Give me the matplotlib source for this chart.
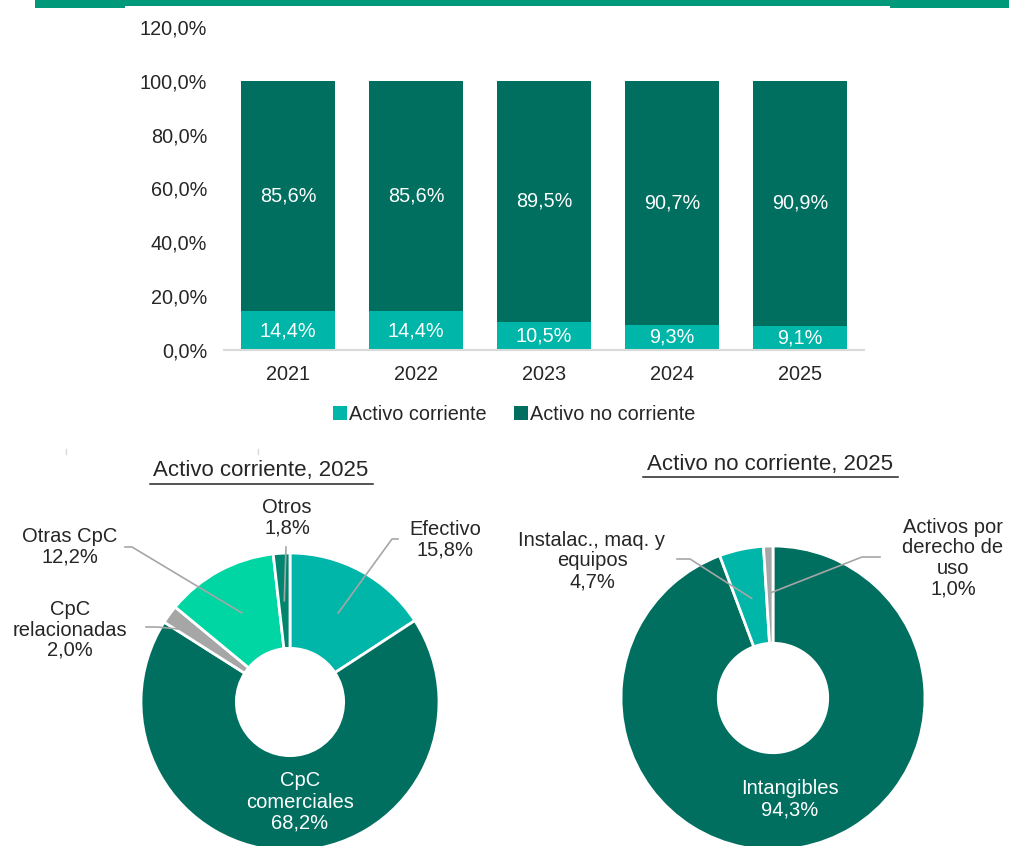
import numpy as np
import matplotlib
matplotlib.use("Agg")
import matplotlib.pyplot as plt
from matplotlib.patches import Rectangle

plt.rcParams['font.family'] = ['Liberation Sans', 'DejaVu Sans']

# ---- data ----
years = ['2021', '2022', '2023', '2024', '2025']
activo_corriente = [14.4, 14.4, 10.5, 9.3, 9.1]
activo_no_corriente = [85.6, 85.6, 89.5, 90.7, 90.9]
y_ticks = [0, 20, 40, 60, 80, 100, 120]

ac_labels = ['Efectivo', 'CpC\ncomerciales', 'CpC\nrelacionadas', 'Otras CpC', 'Otros']
ac_values = [15.8, 68.2, 2.0, 12.2, 1.8]

anc_labels = ['Intangibles', 'Instalac., maq. y\nequipos', 'Activos por\nderecho de\nuso']
anc_values = [94.3, 4.7, 1.0]

# ---- style ----
DARK = '#006F60'
TEAL = '#00B6A8'
MINT = '#00D6A4'
MID = '#00866F'
GREY = '#A6A6A6'
BAND = '#00997A'
TXT = '#262626'

W, H = 1009, 846
fig = plt.figure(figsize=(W / 100, H / 100), dpi=100)


def fmt(v):
    return f"{v:.1f}".replace('.', ',') + '%'


def px_axes(x0, y0, x1, y1):
    """Axes placed by pixel box (top-left origin)."""
    return fig.add_axes([x0 / W, 1 - y1 / H, (x1 - x0) / W, (y1 - y0) / H])


# top band
band = fig.add_axes([0, 0, 1, 1], zorder=-1)
band.set_xlim(0, W)
band.set_ylim(H, 0)
band.axis('off')
band.add_patch(Rectangle((35, 0), W - 35, 6.5, color=BAND, lw=0))
band.add_patch(Rectangle((35, 0), 90, 8, color=BAND, lw=0))
band.add_patch(Rectangle((890, 0), W - 890, 8, color=BAND, lw=0))
band.plot([66, 66], [449, 454], color='#D9D9D9', lw=1)
band.plot([258, 258], [449, 454], color='#D9D9D9', lw=1)

# ---- stacked bars ----
FS = 14.3
ax = px_axes(224, 27, 864, 350)
x = np.arange(len(years))
bw = 0.74
ax.bar(x, activo_corriente, bw, color=TEAL, label='Activo corriente', zorder=2)
ax.bar(x, activo_no_corriente, bw, bottom=activo_corriente, color=DARK,
       label='Activo no corriente', zorder=2)
for xi, a, b in zip(x, activo_corriente, activo_no_corriente):
    ax.text(xi, a / 2, fmt(a), ha='center', va='center', color='white', fontsize=FS)
    ax.text(xi, a + b / 2, fmt(b), ha='center', va='center', color='white', fontsize=FS)

ax.set_xlim(-0.5, len(years) - 0.5)
ax.set_ylim(0, 120)
ax.set_yticks(y_ticks)
ax.set_yticklabels([fmt(t) for t in y_ticks], fontsize=FS, color=TXT)
ax.set_xticks(x)
ax.set_xticklabels(years, fontsize=FS, color=TXT)
ax.tick_params(axis='both', length=0)
ax.tick_params(axis='y', pad=12)
ax.tick_params(axis='x', pad=11)
for s in ['top', 'right', 'left']:
    ax.spines[s].set_visible(False)
ax.spines['bottom'].set_color('#D9D9D9')
ax.spines['bottom'].set_linewidth(1.5)
ax.set_facecolor('none')

leg = ax.legend(loc='center left', bbox_to_anchor=((315 - 224) / 640, -0.2), ncol=2,
                frameon=False, fontsize=FS, handlelength=0.7, handleheight=0.7,
                handletextpad=0.1, columnspacing=1.4)
for t in leg.get_texts():
    t.set_color(TXT)

# ---- donuts ----
pa = fig.add_axes([0, 0, 1, 1])
pa.set_xlim(0, W)
pa.set_ylim(0, H)
pa.set_aspect('equal')
pa.axis('off')

HOLE = 0.36
ring_w = 1 - HOLE


def donut(values, colors, cx, cy, r):
    wedges, _ = pa.pie(values, colors=colors, startangle=90, counterclock=False,
                       center=(cx, H - cy), radius=r,
                       wedgeprops=dict(width=r * ring_w, edgecolor='white', linewidth=2))
    pa.set_xlim(0, W)
    pa.set_ylim(0, H)
    return wedges


def anchor(wedge, cx, cy, r, frac):
    ang = np.deg2rad((wedge.theta1 + wedge.theta2) / 2)
    return cx + frac * r * np.cos(ang), cy - frac * r * np.sin(ang)


def leader(points):
    xs = [p[0] for p in points]
    ys = [H - p[1] for p in points]
    pa.plot(xs, ys, color=GREY, lw=1.2, zorder=5)


# left donut: current assets
lcx, lcy, lr = 290, 702, 149
lw_ = donut(ac_values, [TEAL, DARK, GREY, MINT, MID], lcx, lcy, lr)
fig.text(261 / W, 1 - 470 / H, 'Activo corriente, 2025', ha='center', va='center',
         fontsize=16, color=TXT)
pa.plot([150, 373], [H - 484, H - 484], color=TXT, lw=1.1)

lbl_kw = dict(ha='center', va='center', fontsize=14.5, color=TXT, linespacing=1.1)
pa.text(445, H - 540, f"{ac_labels[0]}\n{fmt(ac_values[0])}", **lbl_kw)
leader([(398, 539), (392, 539), anchor(lw_[0], lcx, lcy, lr, 0.68)])

pa.text(287, H - 518, f"{ac_labels[4]}\n{fmt(ac_values[4])}", **lbl_kw)
leader([(286, 547), anchor(lw_[4], lcx, lcy, lr, 0.68)])

pa.text(70, H - 547, f"{ac_labels[3]}\n{fmt(ac_values[3])}", **lbl_kw)
leader([(125, 547), (132, 547), anchor(lw_[3], lcx, lcy, lr, 0.68)])

pa.text(70, H - 630, f"{ac_labels[2]}\n{fmt(ac_values[2])}", **lbl_kw)
leader([(146, 627), (157, 627), anchor(lw_[2], lcx, lcy, lr, 0.82)])

pa.text(300, H - 802, f"{ac_labels[1]}\n{fmt(ac_values[1])}",
        ha='center', va='center', fontsize=14.5, color='white', linespacing=1.15)

# right donut: non-current assets
rcx, rcy, rr = 773, 698, 152
rw_ = donut(anc_values, [DARK, TEAL, GREY], rcx, rcy, rr)
fig.text(770 / W, 1 - 464 / H, 'Activo no corriente, 2025', ha='center', va='center',
         fontsize=16, color=TXT)
pa.plot([643, 898], [H - 477, H - 477], color=TXT, lw=1.1)

pa.text(592, H - 561, f"{anc_labels[1]}\n{fmt(anc_values[1])}", **lbl_kw)
leader([(677, 559), (690, 559), anchor(rw_[1], rcx, rcy, rr, 0.67)])

pa.text(953, H - 558, f"{anc_labels[2]}\n{fmt(anc_values[2])}", **lbl_kw)
leader([(880, 557), (862, 557), anchor(rw_[2], rcx, rcy, rr, 0.69)])

pa.text(790, H - 799, f"{anc_labels[0]}\n{fmt(anc_values[0])}",
        ha='center', va='center', fontsize=14.5, color='white', linespacing=1.15)

fig.savefig('out.png', dpi=100, facecolor='white')
